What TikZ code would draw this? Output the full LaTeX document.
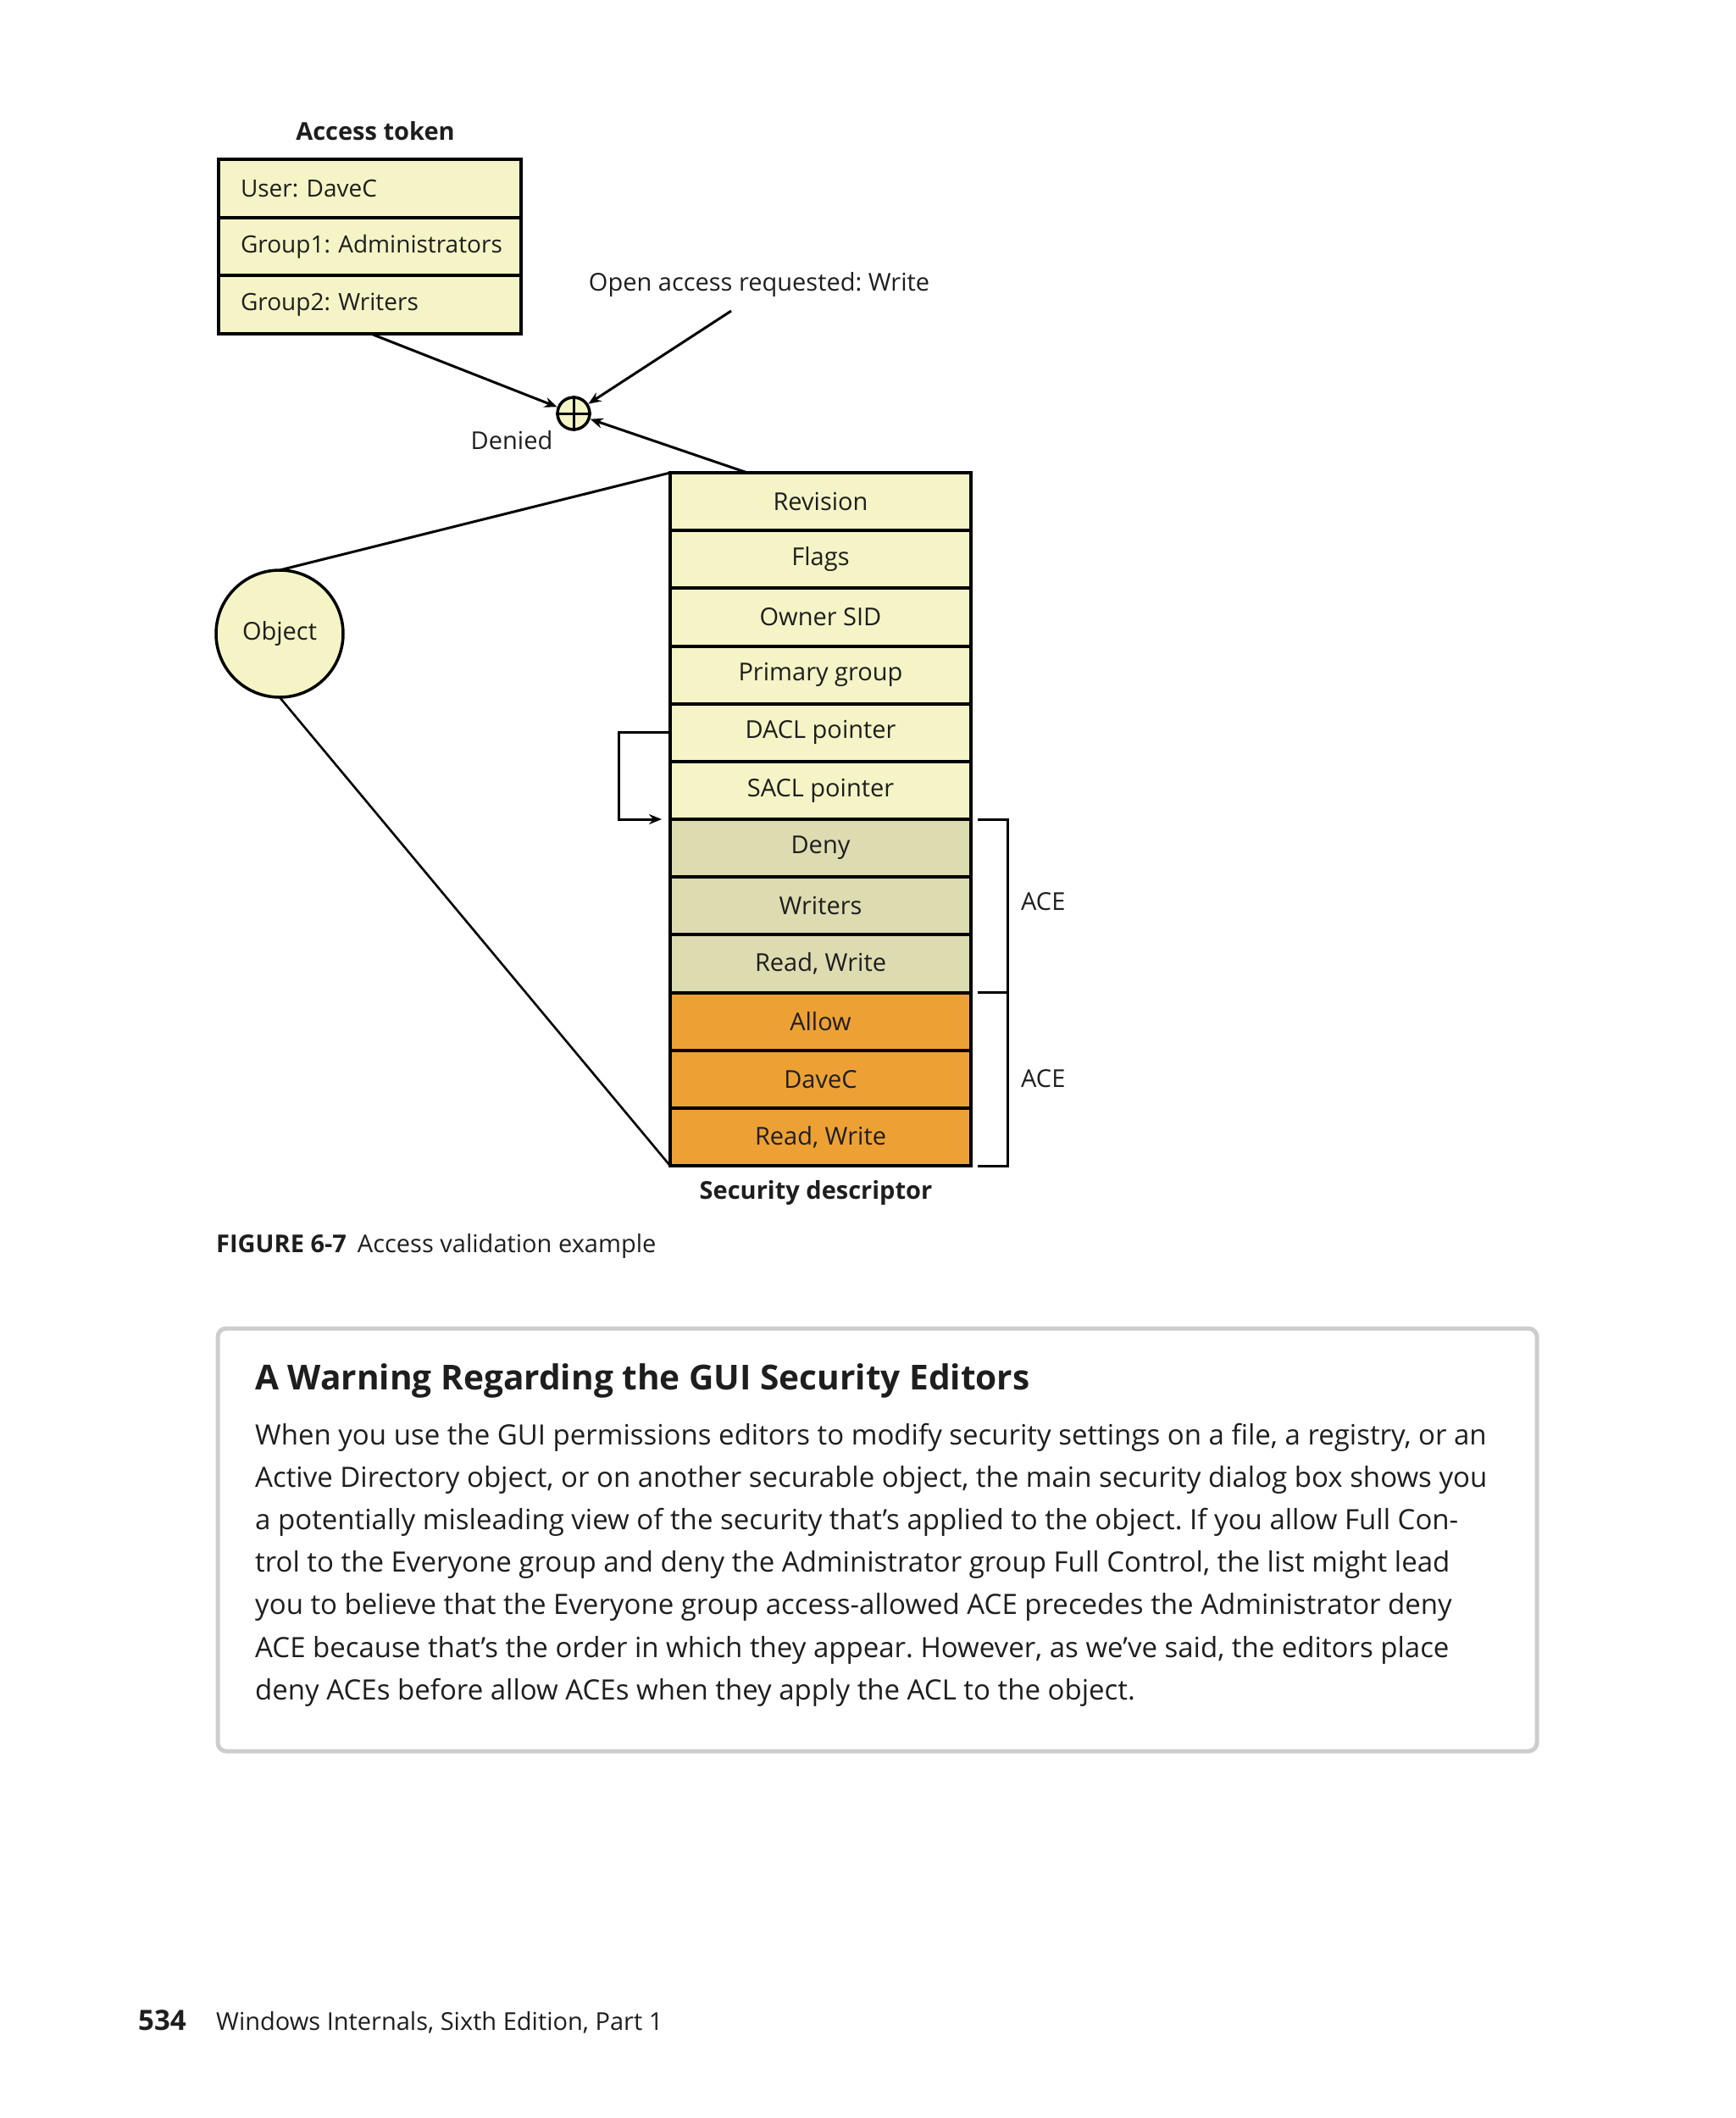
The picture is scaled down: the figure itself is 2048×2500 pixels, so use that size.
\documentclass[tikz,border=0pt]{standalone}
\usepackage{fontspec}
\setmainfont{Open Sans}
\usetikzlibrary{arrows.meta,calc}
\definecolor{ylw}{HTML}{F4F4C6}
\definecolor{khaki}{HTML}{DDDBB0}
\definecolor{orng}{HTML}{EDA135}
\definecolor{ink}{HTML}{1E1E1E}
\definecolor{boxgray}{HTML}{CDCDCD}
\frenchspacing
\begin{document}
\begin{tikzpicture}[x=1pt,y=-1pt,
  lbl/.style={font=\fontsize{29}{34}\selectfont, text=ink, inner sep=0pt},
  ttl/.style={font=\fontsize{29}{34}\selectfont\bfseries, text=ink, inner sep=0pt},
  tokrow/.style={draw=black, line width=4pt, outer sep=0pt, fill=ylw, minimum width=357pt, minimum height=68.5pt,
     text width=305pt, align=left, inner xsep=26pt, inner ysep=0pt, anchor=north west,
     font=\fontsize{28}{34}\selectfont, text=ink},
  sdrow/.style={draw=black, line width=4pt, outer sep=0pt, minimum width=355pt, minimum height=68.17pt,
     inner sep=0pt, anchor=north west, font=\fontsize{29}{34}\selectfont, text=ink},
  conn/.style={line width=3pt, draw=black},
  arr/.style={conn, -{Stealth[length=15pt,width=12pt]}},
  body/.style={font=\fontsize{33}{50}\selectfont, text=ink, inner sep=0pt, anchor=base west}
]
\useasboundingbox[fill=white] (0,0) rectangle (2048,2500);

% Access token
\node[ttl] (tokttl) at (443,155) {Access token};
\node[tokrow] (t1) at (258,188) {\mbox{User: DaveC}};
\node[tokrow] (t2) at (258,256.5) {\mbox{Group1: Administrators}};
\node[tokrow] (t3) at (258,325) {\mbox{Group2: Writers}};

% oplus
\node[circle, draw=black, line width=3.5pt, fill=ylw, minimum size=38pt, inner sep=0pt] (op) at (677,488) {};
\draw[line width=3pt] (op.north) -- (op.south) (op.west) -- (op.east);
\node[lbl] (denied) at (604,520) {Denied};
\node[lbl] (req) at (896,336) {Open access requested: Write};
\coordinate (reqfoot) at (863,367);

% Security descriptor
\node[sdrow, fill=ylw]   (s1)  at (791,558)     {Revision};
\node[sdrow, fill=ylw]   (s2)  at (791,626.17)  {Flags};
\node[sdrow, fill=ylw]   (s3)  at (791,694.34)  {Owner SID};
\node[sdrow, fill=ylw]   (s4)  at (791,762.51)  {Primary group};
\node[sdrow, fill=ylw]   (s5)  at (791,830.68)  {DACL pointer};
\node[sdrow, fill=ylw]   (s6)  at (791,898.85)  {SACL pointer};
\node[sdrow, fill=khaki] (s7)  at (791,967.02)  {Deny};
\node[sdrow, fill=khaki] (s8)  at (791,1035.19) {Writers};
\node[sdrow, fill=khaki] (s9)  at (791,1103.36) {Read, Write};
\node[sdrow, fill=orng]  (s10) at (791,1171.53) {Allow};
\node[sdrow, fill=orng]  (s11) at (791,1239.70) {DaveC};
\node[sdrow, fill=orng]  (s12) at (791,1307.87) {Read, Write};
\node[ttl] (sdttl) at (963,1408) {Security descriptor};

% Object
\node[circle, draw=black, line width=3.5pt, outer sep=0pt, fill=ylw, minimum size=150pt, inner sep=0pt,
      font=\fontsize{29}{34}\selectfont, text=ink] (obj) at (330,748) {Object};

% connectors
\draw[arr] (t3.south) -- (op);
\draw[arr] (reqfoot) -- (op);
\draw[arr] ($(s1.north west)+(91,0)$) -- (op);
\draw[conn] (obj.north) -- (s1.north west);
\draw[conn, line width=2.6pt] (obj.south) -- (s12.south west);
\draw[conn, -{Stealth[length=15pt,width=12pt]}, shorten >=10pt] (s5.west) -- ++(-61,0) |- (s7.north west);

% ACE brackets
\draw[conn] ($(s7.north east)+(8,0)$) -- ++(35,0) |- ($(s9.south east)+(8,0)$);
\draw[conn] ($(s10.north east)+(8,0)$) -- ++(35,0) |- ($(s12.south east)+(8,0)$);
\node[lbl, anchor=west] (ace1) at (1205,1064) {ACE};
\node[lbl, anchor=west] (ace2) at (1205,1273) {ACE};

% caption
\node[lbl, anchor=west] (cap) at (255,1471) {\textbf{FIGURE 6-7}\hspace{13pt}Access validation example};

% warning box
\draw[boxgray, line width=5pt, rounded corners=10pt] (257,1568) rectangle (1814,2067);
\node[font=\fontsize{40.6}{46}\selectfont\bfseries, text=ink, inner sep=0pt, anchor=base west] (wt) at (301,1640) {A Warning Regarding the GUI Security Editors};
\node[body] (b1) at (301,1705) {When you use the GUI permissions editors to modify security settings on a file, a registry, or an};
\node[body] (b2) at (301,1755.2) {Active Directory object, or on another securable object, the main security dialog box shows you};
\node[body] (b3) at (301,1805.4) {a potentially misleading view of the security that’s applied to the object. If you allow Full Con-};
\node[body] (b4) at (301,1855.6) {trol to the Everyone group and deny the Administrator group Full Control, the list might lead};
\node[body] (b5) at (301,1905.8) {you to believe that the Everyone group access-allowed ACE precedes the Administrator deny};
\node[body] (b6) at (301,1956) {ACE because that’s the order in which they appear. However, as we’ve said, the editors place};
\node[body] (b7) at (301,2006.2) {deny ACEs before allow ACEs when they apply the ACL to the object.};

% footer
\node[font=\fontsize{33}{38}\selectfont\bfseries, text=ink, inner sep=0pt, anchor=base west] (pg) at (163,2396) {534};
\node[font=\fontsize{29}{36}\selectfont, text=ink, inner sep=0pt, anchor=base west] (ft) at (255,2396) {Windows Internals, Sixth Edition, Part 1};
\end{tikzpicture}
\end{document}
